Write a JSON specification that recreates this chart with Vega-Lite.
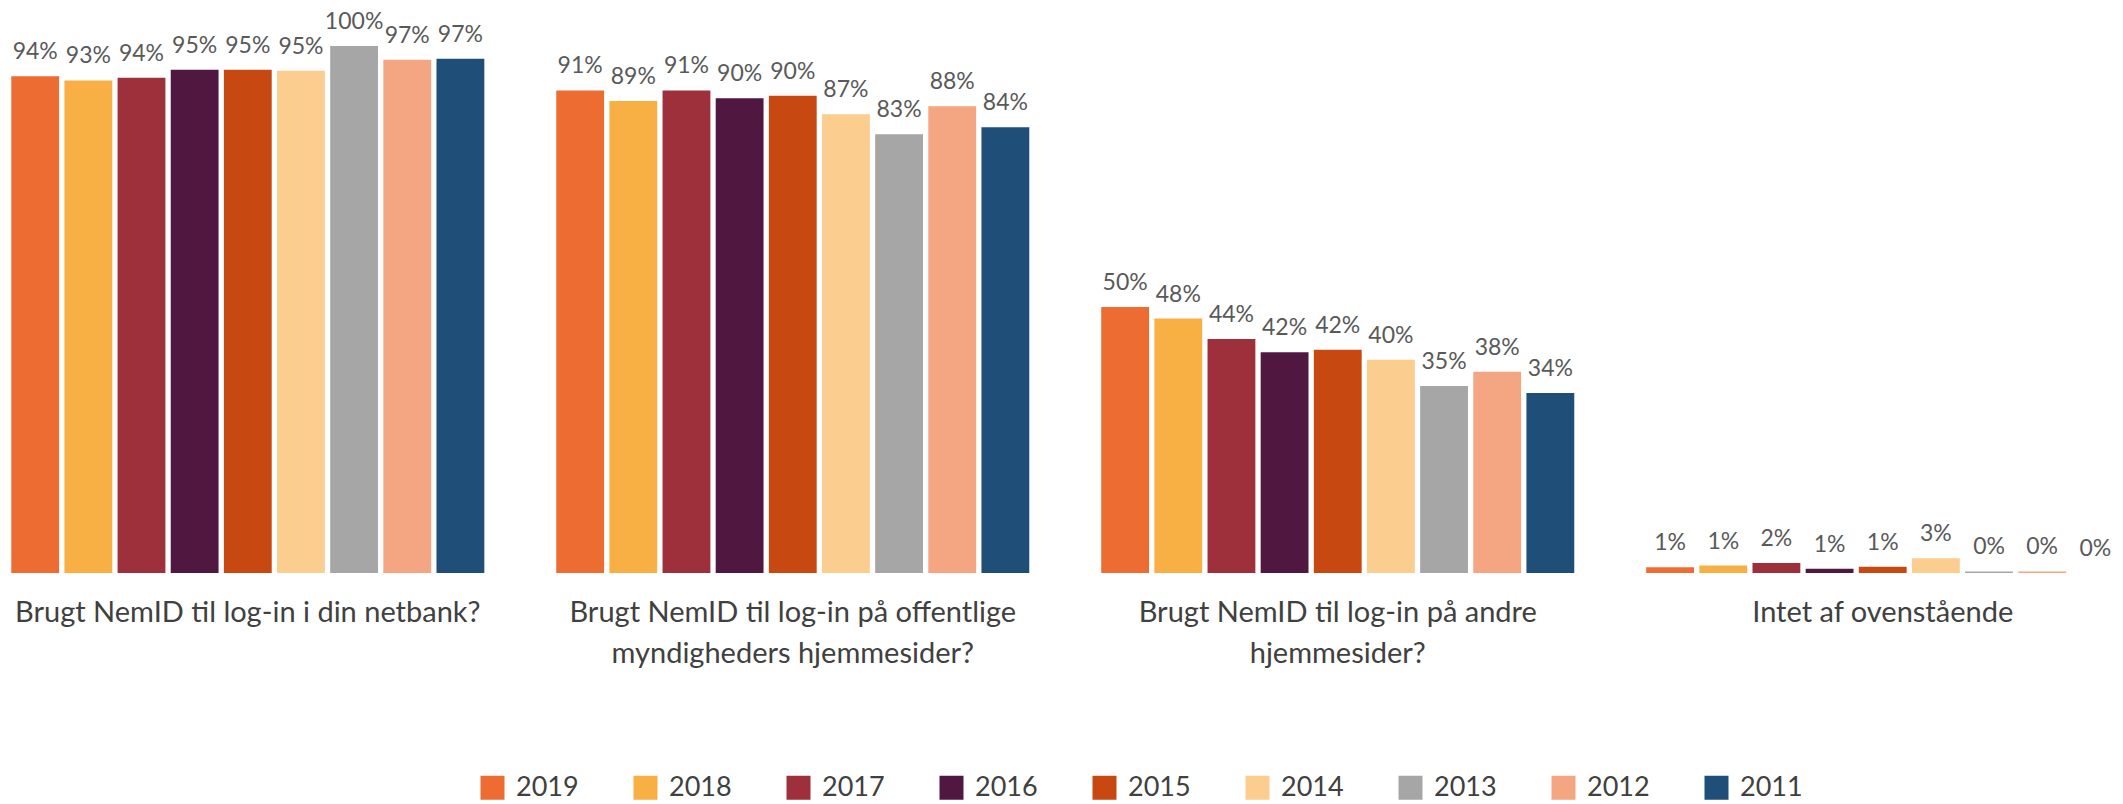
{
  "$schema": "https://vega.github.io/schema/vega-lite/v6.json",
  "width": 2123,
  "height": 528,
  "autosize": {"type": "none"},
  "padding": {"left": 0, "top": 45, "right": 0, "bottom": 231},
  "background": "white",
  "config": {"view": {"stroke": null}, "font": "Lato"},
  "data": {"values": [
    {"q": "Brugt NemID til log-in i din netbank?", "year": "2019", "v": 0.941},
    {"q": "Brugt NemID til log-in i din netbank?", "year": "2018", "v": 0.933},
    {"q": "Brugt NemID til log-in i din netbank?", "year": "2017", "v": 0.938},
    {"q": "Brugt NemID til log-in i din netbank?", "year": "2016", "v": 0.953},
    {"q": "Brugt NemID til log-in i din netbank?", "year": "2015", "v": 0.953},
    {"q": "Brugt NemID til log-in i din netbank?", "year": "2014", "v": 0.951},
    {"q": "Brugt NemID til log-in i din netbank?", "year": "2013", "v": 0.998},
    {"q": "Brugt NemID til log-in i din netbank?", "year": "2012", "v": 0.972},
    {"q": "Brugt NemID til log-in i din netbank?", "year": "2011", "v": 0.974},
    {"q": "Brugt NemID til log-in på offentlige myndigheders hjemmesider?", "year": "2019", "v": 0.914},
    {"q": "Brugt NemID til log-in på offentlige myndigheders hjemmesider?", "year": "2018", "v": 0.894},
    {"q": "Brugt NemID til log-in på offentlige myndigheders hjemmesider?", "year": "2017", "v": 0.914},
    {"q": "Brugt NemID til log-in på offentlige myndigheders hjemmesider?", "year": "2016", "v": 0.899},
    {"q": "Brugt NemID til log-in på offentlige myndigheders hjemmesider?", "year": "2015", "v": 0.904},
    {"q": "Brugt NemID til log-in på offentlige myndigheders hjemmesider?", "year": "2014", "v": 0.869},
    {"q": "Brugt NemID til log-in på offentlige myndigheders hjemmesider?", "year": "2013", "v": 0.831},
    {"q": "Brugt NemID til log-in på offentlige myndigheders hjemmesider?", "year": "2012", "v": 0.884},
    {"q": "Brugt NemID til log-in på offentlige myndigheders hjemmesider?", "year": "2011", "v": 0.844},
    {"q": "Brugt NemID til log-in på andre hjemmesider?", "year": "2019", "v": 0.504},
    {"q": "Brugt NemID til log-in på andre hjemmesider?", "year": "2018", "v": 0.482},
    {"q": "Brugt NemID til log-in på andre hjemmesider?", "year": "2017", "v": 0.443},
    {"q": "Brugt NemID til log-in på andre hjemmesider?", "year": "2016", "v": 0.418},
    {"q": "Brugt NemID til log-in på andre hjemmesider?", "year": "2015", "v": 0.423},
    {"q": "Brugt NemID til log-in på andre hjemmesider?", "year": "2014", "v": 0.404},
    {"q": "Brugt NemID til log-in på andre hjemmesider?", "year": "2013", "v": 0.354},
    {"q": "Brugt NemID til log-in på andre hjemmesider?", "year": "2012", "v": 0.381},
    {"q": "Brugt NemID til log-in på andre hjemmesider?", "year": "2011", "v": 0.341},
    {"q": "Intet af ovenstående", "year": "2019", "v": 0.011},
    {"q": "Intet af ovenstående", "year": "2018", "v": 0.014},
    {"q": "Intet af ovenstående", "year": "2017", "v": 0.019},
    {"q": "Intet af ovenstående", "year": "2016", "v": 0.008},
    {"q": "Intet af ovenstående", "year": "2015", "v": 0.012},
    {"q": "Intet af ovenstående", "year": "2014", "v": 0.028},
    {"q": "Intet af ovenstående", "year": "2013", "v": 0.003},
    {"q": "Intet af ovenstående", "year": "2012", "v": 0.003},
    {"q": "Intet af ovenstående", "year": "2011", "v": 0.0}
  ]},
  "encoding": {
    "x": {
      "field": "q", "type": "nominal", "sort": null,
      "scale": {"paddingInner": 0.132, "paddingOuter": 0.0138, "align": 0.75},
      "axis": {
        "title": null, "domain": false, "ticks": false, "labelAngle": 0,
        "labelFontSize": 29, "labelColor": "#404040", "labelPadding": 25,
        "labelLineHeight": 41, "labelLimit": 600, "labelFont": "Lato",
        "labelExpr": "datum.value == 'Brugt NemID til log-in på offentlige myndigheders hjemmesider?' ? ['Brugt NemID til log-in på offentlige', 'myndigheders hjemmesider?'] : datum.value == 'Brugt NemID til log-in på andre hjemmesider?' ? ['Brugt NemID til log-in på andre', 'hjemmesider?'] : datum.label"
      }
    },
    "xOffset": {
      "field": "year", "type": "nominal", "sort": "descending",
      "scale": {"paddingInner": 0.1, "paddingOuter": 0}
    },
    "y": {"field": "v", "type": "quantitative", "scale": {"domain": [0, 1]}, "axis": null}
  },
  "layer": [
    {
      "mark": {"type": "bar"},
      "encoding": {
        "color": {
          "field": "year", "type": "nominal",
          "scale": {
            "domain": ["2019", "2018", "2017", "2016", "2015", "2014", "2013", "2012", "2011"],
            "range": ["#ED6C32", "#F8AF43", "#9E303B", "#501840", "#C84811", "#FBCD8E", "#A6A6A6", "#F4A582", "#1F4E79"]
          },
          "legend": {
            "title": null, "orient": "none", "legendX": 479, "legendY": 729,
            "direction": "horizontal", "columns": 9, "symbolType": "square",
            "symbolSize": 576, "symbolStrokeWidth": 0, "labelFontSize": 27, "labelColor": "#404040",
            "labelFont": "Lato", "labelOffset": 10, "columnPadding": 53
          }
        }
      }
    },
    {
      "mark": {"type": "text", "baseline": "alphabetic", "dy": -17, "fontSize": 23, "color": "#595959", "font": "Lato"},
      "encoding": {"text": {"field": "v", "type": "quantitative", "format": ".0%"}}
    }
  ]
}
